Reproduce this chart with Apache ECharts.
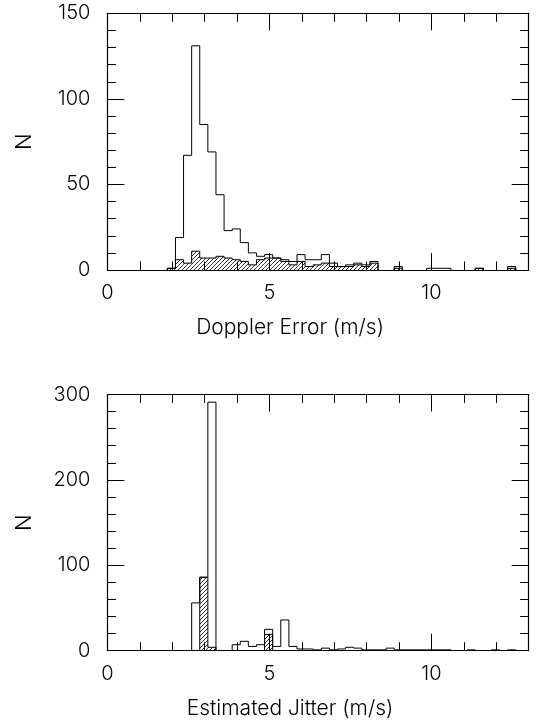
<!DOCTYPE html>
<html>
<head>
<meta charset="utf-8">
<script src="https://cdn.jsdelivr.net/npm/echarts@6/dist/echarts.min.js"></script>
<style>
html,body{margin:0;padding:0;background:#fff;}
#c{width:538px;height:724px;}
</style>
</head>
<body>
<div id="c"></div>
<script>
// Bin edges (m/s), 44 bins of 0.25
const binEdges = [1.85,2.10,2.35,2.60,2.85,3.10,3.35,3.60,3.85,4.10,4.35,4.60,4.85,5.10,5.35,5.60,5.85,6.10,6.35,6.60,6.85,7.10,7.35,7.60,7.85,8.10,8.35,8.60,8.85,9.10,9.35,9.60,9.85,10.10,10.35,10.60,10.85,11.10,11.35,11.60,11.85,12.10,12.35,12.60,12.85];

// Top panel: Doppler error
const dopplerAll     = [1,19,67,131,85,69,44,23,24,16,10,8,9,7,6,5,9,6,6,9,4,2,3,4,3,5,0,0,2,0,0,0,1,1,1,0,0,0,1,0,0,0,2,0];
const dopplerHatched = [1,6,4,11,7,7,8,7,6,5,3,6,7,7,5,3,5,2,3,4,2,2,2,3,2,4,0,0,1,0,0,0,0,0,0,0,0,0,1,0,0,0,1,0];

// Bottom panel: estimated jitter
const jitterAll     = [0,0,0,56,86,291,0,0,7,11,5,7,25,5,36,5,2,2,1,3,1,2,4,3,1,1,1,3,1,1,1,1,1,1,1,0,0,1,0,0,1,0,1,0];
const jitterHatched = [0,0,0,0,86,4,0,0,0,0,0,0,19,0,0,0,0,0,0,0,0,0,0,0,0,0,0,0,0,0,0,0,0,0,0,0,0,0,0,0,0,0,0,0];

const xTickLabels = [0, 5, 10];
const topYTicks = [0, 50, 100, 150];
const bottomYTicks = [0, 100, 200, 300];

const topXName = 'Doppler Error (m/s)';
const bottomXName = 'Estimated Jitter (m/s)';
const yName = 'N';

function toItems(vals) {
  return vals.map((v, i) => [binEdges[i], binEdges[i + 1], v, i > 0 ? vals[i - 1] : 0, i < vals.length - 1 ? vals[i + 1] : 0]);
}

// hatch pattern
const pc = document.createElement('canvas');
const S = 4;
pc.width = S; pc.height = S;
const g = pc.getContext('2d');
g.strokeStyle = '#000';
g.lineWidth = 0.8;
g.beginPath();
g.moveTo(0, S); g.lineTo(S, 0);
g.moveTo(-1, 1); g.lineTo(1, -1);
g.moveTo(S - 1, S + 1); g.lineTo(S + 1, S - 1);
g.stroke();
const hatch = { image: pc, repeat: 'repeat' };

function outlinePts(api) {
  const x0 = api.value(0), x1 = api.value(1), v = api.value(2), pv = api.value(3), nv = api.value(4);
  const pts = [api.coord([x0, pv]), api.coord([x0, v]), api.coord([x1, v])];
  if (nv <= 0) pts.push(api.coord([x1, 0]));
  return pts;
}

function renderOpen(params, api) {
  if (api.value(2) <= 0) return;
  return { type: 'polyline', shape: { points: outlinePts(api) }, style: { stroke: '#000', lineWidth: 1, fill: null } };
}

function renderHatched(params, api) {
  if (api.value(2) <= 0) return;
  const p0 = api.coord([api.value(0), api.value(2)]);
  const p1 = api.coord([api.value(1), 0]);
  return {
    type: 'group',
    children: [
      { type: 'rect', shape: { x: p0[0], y: p0[1], width: p1[0] - p0[0], height: p1[1] - p0[1] }, style: { fill: hatch, stroke: null } },
      { type: 'polyline', shape: { points: outlinePts(api) }, style: { stroke: '#000', lineWidth: 1, fill: null } }
    ]
  };
}

const FONT = 'Inter, "Liberation Sans", sans-serif';
const WEIGHT = 300;
const lineStyle = { color: '#000', width: 1.2 };

function xAx(gridIndex, pos, name) {
  return {
    type: 'value', gridIndex, position: pos, min: 0, max: 13, interval: 5,
    axisLine: { show: true, onZero: false, lineStyle },
    axisTick: { show: true, inside: true, length: 17, lineStyle: { color: '#000', width: 1 } },
    minorTick: { show: true, splitNumber: 5, length: 8.5, lineStyle: { color: '#000', width: 1 } },
    splitLine: { show: false }, minorSplitLine: { show: false },
    axisLabel: pos === 'bottom' ? {
      show: true, margin: 13, fontFamily: FONT, fontWeight: WEIGHT, fontSize: 20, color: '#000',
      formatter: v => xTickLabels.includes(v) ? String(v) : ''
    } : { show: false },
    name: name || '', nameLocation: 'middle', nameGap: 47,
    nameTextStyle: { fontFamily: FONT, fontWeight: WEIGHT, fontSize: 21, color: '#000', padding: [0, 56, 0, 0] }
  };
}

function yAx(gridIndex, pos, max, interval, ticks) {
  return {
    type: 'value', gridIndex, position: pos, min: 0, max, interval,
    axisLine: { show: true, onZero: false, lineStyle },
    axisTick: { show: true, inside: true, length: 17, lineStyle: { color: '#000', width: 1 } },
    minorTick: { show: true, splitNumber: 5, length: 8.5, lineStyle: { color: '#000', width: 1 } },
    splitLine: { show: false }, minorSplitLine: { show: false },
    axisLabel: pos === 'left' ? {
      show: true, margin: 17, fontFamily: FONT, fontWeight: WEIGHT, fontSize: 20, color: '#000',
      formatter: v => ticks.includes(v) ? String(v) : ''
    } : { show: false },
    name: pos === 'left' ? yName : '', nameLocation: 'middle', nameGap: 72, nameRotate: 90,
    nameTextStyle: { fontFamily: FONT, fontWeight: WEIGHT, fontSize: 22, color: '#000' }
  };
}

const chart = echarts.init(document.getElementById('c'), null, { renderer: 'canvas' });
chart.setOption({
  animation: false,
  backgroundColor: '#fff',
  grid: [
    { left: 107.4, right: 9.3, top: 13.3, height: 256.7, containLabel: false },
    { left: 107.4, right: 9.3, top: 394.5, height: 256.2, containLabel: false }
  ],
  xAxis: [
    xAx(0, 'bottom', topXName),
    xAx(0, 'top'),
    xAx(1, 'bottom', bottomXName),
    xAx(1, 'top')
  ],
  yAxis: [
    yAx(0, 'left', 150, 50, topYTicks),
    yAx(0, 'right', 150, 50, topYTicks),
    yAx(1, 'left', 300, 100, bottomYTicks),
    yAx(1, 'right', 300, 100, bottomYTicks)
  ],
  series: [
    { type: 'custom', xAxisIndex: 0, yAxisIndex: 0, renderItem: renderHatched, data: toItems(dopplerHatched), encode: { x: [0, 1], y: 2 } },
    { type: 'custom', xAxisIndex: 0, yAxisIndex: 0, renderItem: renderOpen, data: toItems(dopplerAll), encode: { x: [0, 1], y: 2 } },
    { type: 'custom', xAxisIndex: 2, yAxisIndex: 2, renderItem: renderHatched, data: toItems(jitterHatched), encode: { x: [0, 1], y: 2 } },
    { type: 'custom', xAxisIndex: 2, yAxisIndex: 2, renderItem: renderOpen, data: toItems(jitterAll), encode: { x: [0, 1], y: 2 } }
  ]
});
</script>
</body>
</html>
